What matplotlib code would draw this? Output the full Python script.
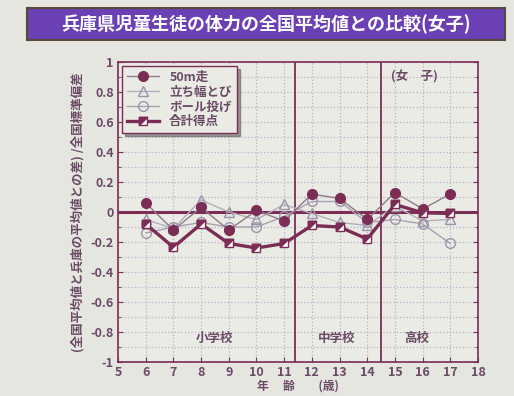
import matplotlib.pyplot as plt
from matplotlib.patches import Rectangle
from matplotlib.legend_handler import HandlerTuple

plt.rcParams['font.family'] = ['Noto Sans CJK JP', 'DejaVu Sans']

# data
ages = [6, 7, 8, 9, 10, 11, 12, 13, 14, 15, 16, 17]
run50 = [0.06, -0.12, 0.03, -0.12, 0.01, -0.06, 0.12, 0.09, -0.05, 0.13, 0.02, 0.12]
jump = [-0.05, -0.11, 0.08, 0.00, -0.05, 0.05, -0.01, -0.07, -0.09, 0.04, -0.06, -0.05]
ball = [-0.14, -0.10, -0.07, -0.10, -0.10, -0.03, 0.07, 0.07, -0.07, -0.05, -0.08, -0.21]
total = [-0.08, -0.235, -0.08, -0.21, -0.24, -0.21, -0.09, -0.10, -0.18, 0.05, -0.005, -0.01]
series_names = ['50m走', '立ち幅とび', 'ボール投げ', '合計得点']
school_bounds = [11.4, 14.5]
school_labels = ['小学校', '中学校', '高校']
school_pos = [8.5, 12.9, 15.8]

maroon = '#7b2d55'
grey = '#9a94a6'
txt = '#6b4a66'
bg = '#e6e6e1'

fig = plt.figure(figsize=(5.14, 3.96), dpi=100, facecolor=bg)

# title banner
fig.patches.append(Rectangle((0.053, 0.899), 0.93, 0.081, transform=fig.transFigure,
                             facecolor='#6a40b4', edgecolor='#5a4a3a', lw=1.5))
fig.text(0.518, 0.938, '兵庫県児童生徒の体力の全国平均値との比較(女子)',
         ha='center', va='center', color='white', fontsize=13, fontweight='bold')

ax = fig.add_axes([0.2296, 0.0859, 0.7004, 0.7575])
ax.set_facecolor('#ebebe6')
ax.set_xlim(5, 18)
ax.set_ylim(-1, 1)
ax.set_xticks(range(5, 19))
ax.set_yticks([-1, -0.8, -0.6, -0.4, -0.2, 0, 0.2, 0.4, 0.6, 0.8, 1])
ax.set_yticklabels(['-1', '-0.8', '-0.6', '-0.4', '-0.2', '0', '0.2', '0.4', '0.6', '0.8', '1'])
ax.set_yticks([i / 10 for i in range(-9, 10, 2)], minor=True)
ax.grid(True, which='both', linestyle=':', color='#b8b0cc', lw=0.9)
ax.tick_params(which='both', direction='in', right=True, color=maroon,
               labelsize=9, labelcolor=txt, pad=3)
for t in ax.get_xticklabels() + ax.get_yticklabels():
    t.set_fontweight('bold')
for s in ax.spines.values():
    s.set_color(maroon)
    s.set_linewidth(1.2)

ax.axhline(0, color=maroon, lw=2.2, zorder=2)
for b in school_bounds:
    ax.axvline(b, color=maroon, lw=1.3, zorder=2)

l1, = ax.plot(ages, run50, color='#8f7a8a', lw=1.0, marker='o', ms=7,
              mfc=maroon, mec=maroon, zorder=5)
l2, = ax.plot(ages, jump, color='#b5aebb', lw=1.0, marker='^', ms=7,
              mfc='none', mec=grey, zorder=4)
l3, = ax.plot(ages, ball, color='#a8a0b0', lw=1.0, marker='o', ms=7,
              mfc='none', mec=grey, zorder=4)
l4, = ax.plot(ages, total, color=maroon, lw=2.4, marker='s', ms=6,
              mfc='white', mec=maroon, zorder=6)
tri = [(-1, -1), (-1, 1), (1, 1), (-1, -1)]
l4b, = ax.plot(ages, total, ls='none', marker=tri, ms=6, mfc=maroon,
               mec=maroon, zorder=7)

leg = ax.legend([l1, l2, l3, (l4, l4b)], series_names, loc='upper left',
                handler_map={tuple: HandlerTuple(ndivide=1, pad=0)},
                fontsize=9, frameon=True, fancybox=False, shadow=True,
                borderaxespad=0.3, handlelength=2.6, labelspacing=0.15,
                facecolor='#ebebe6', edgecolor=maroon)
for t in leg.get_texts():
    t.set_color(txt)
    t.set_fontweight('bold')

for lab, xp in zip(school_labels, school_pos):
    ax.text(xp, -0.84, lab, ha='center', va='center', fontsize=9,
            color=txt, fontweight='bold')
ax.text(15.7, 0.9, '(女　子)', ha='center', va='center', fontsize=9,
        color=txt, fontweight='bold')

ax.set_xlabel('年　 齢　　(歳)', fontsize=8.5, color=txt, fontweight='bold', labelpad=0)
ax.set_ylabel('(全国平均値と兵庫の平均値との差) /全国標準偏差', fontsize=9,
              color=txt, fontweight='bold', labelpad=4)

fig.savefig('out.png', dpi=100, facecolor=bg)
